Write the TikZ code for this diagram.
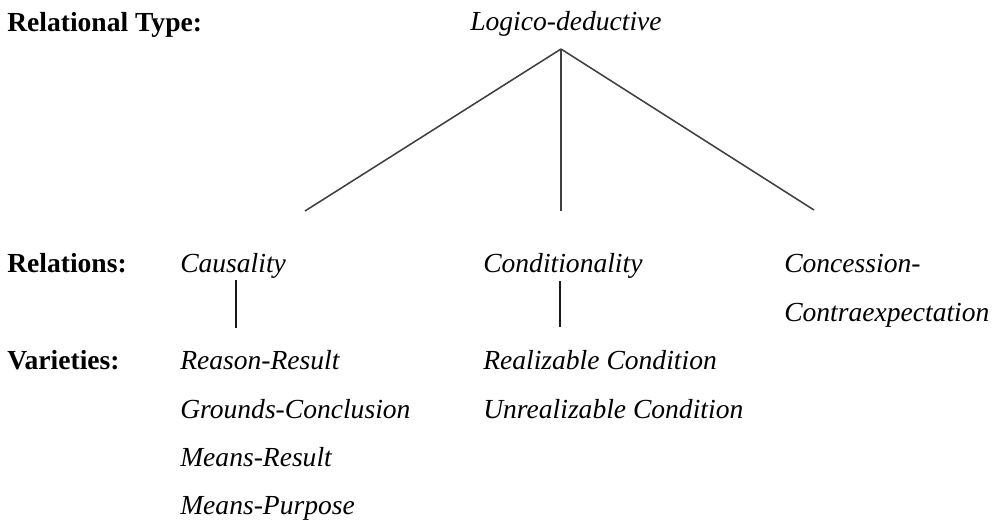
\documentclass[tikz,border=0pt]{standalone}
\usepackage{fontspec}
\setmainfont{Liberation Serif}
\usepackage{tikz}

\begin{document}
\begin{tikzpicture}[x=0.025cm,y=-0.025cm,
    every node/.style={anchor=base west,inner sep=0pt,font=\fontsize{19.6}{24}\selectfont},
    head/.style={font=\fontsize{19.6}{24}\selectfont\bfseries},
    term/.style={font=\fontsize{19.6}{24}\selectfont\itshape},
    branch/.style={draw=black!75,line width=1.1pt}]
    \useasboundingbox (0,0) rectangle (996,524);
    % row labels
    \node[head] (type) at (7,32) {Relational Type:};
    \node[head] (rel) at (7,273) {Relations:};
    \node[head] (var) at (7,370) {Varieties:};
    % top
    \node[term,anchor=base] (logic) at (566,31) {Logico-deductive};
    \coordinate (apex) at (561,49);
    \coordinate (lend) at (305,211);
    \coordinate (mend) at (561,211);
    \coordinate (rend) at (814,210);
    \draw[branch] (apex) -- (lend);
    \draw[branch] (apex) -- (mend);
    \draw[branch] (apex) -- (rend);
    % relations
    \node[term] (caus) at (180,273) {Causality};
    \node[term] (cond) at (483,273) {Conditionality};
    \node[term] (conc) at (784,273) {Concession-};
    \node[term] (contra) at (784,322) {Contraexpectation};
    \coordinate (ctop) at (236,280);
    \coordinate (cbot) at (236,328);
    \coordinate (dtop) at (560,281);
    \coordinate (dbot) at (560,327);
    \draw[branch,draw=black!90,line width=1.3pt] (ctop) -- (cbot);
    \draw[branch,draw=black!90,line width=1.3pt] (dtop) -- (dbot);
    % varieties
    \node[term] (rr) at (180,370) {Reason-Result};
    \node[term] (gc) at (180,419) {Grounds-Conclusion};
    \node[term] (mr) at (180,467) {Means-Result};
    \node[term] (mp) at (180,515) {Means-Purpose};
    \node[term] (rc) at (483,370) {Realizable Condition};
    \node[term] (uc) at (483,419) {Unrealizable Condition};
\end{tikzpicture}
\end{document}
